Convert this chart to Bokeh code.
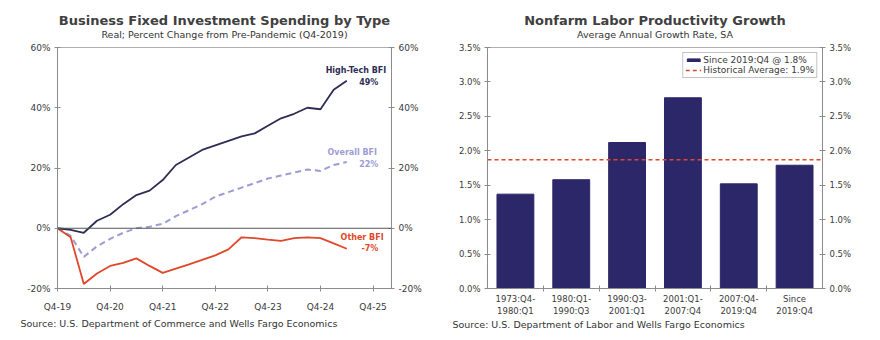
from bokeh.plotting import figure
from bokeh.layouts import row
from bokeh.models import (Range1d, LinearAxis, FixedTicker, PrintfTickFormatter,
                          Label, Span, Legend, LegendItem, ColumnDataSource, Title)
from bokeh.embed import file_html
from bokeh.resources import INLINE

# ---------------- data ----------------
quarters = ["Q4-19", "Q1-20", "Q2-20", "Q3-20", "Q4-20", "Q1-21", "Q2-21", "Q3-21",
            "Q4-21", "Q1-22", "Q2-22", "Q3-22", "Q4-22", "Q1-23", "Q2-23", "Q3-23",
            "Q4-23", "Q1-24", "Q2-24", "Q3-24", "Q4-24", "Q1-25", "Q2-25"]
high_tech = [0, -0.5, -1.5, 2.5, 4.5, 8, 11, 12.5, 16, 21, 23.5, 26, 27.5, 29, 30.5,
             31.5, 34, 36.5, 38, 40, 39.5, 46, 49]
overall = [0, -2.5, -9.5, -6, -3.5, -1.5, 0, 0.5, 1.5, 4, 6, 8, 10.5, 12, 13.5, 15,
           16.5, 17.5, 18.5, 19.5, 19, 21, 22]
other = [0, -3, -18.5, -15, -12.5, -11.5, -10, -12.5, -14.8, -13.4, -12, -10.5, -9,
         -7, -3, -3.3, -3.8, -4.2, -3.3, -3, -3.3, -5, -6.8]
year_ticks = ["Q4-19", "Q4-20", "Q4-21", "Q4-22", "Q4-23", "Q4-24", "Q4-25"]
left_y_ticks = [-20, 0, 20, 40, 60]

periods = ["1973:Q4-\n1980:Q1", "1980:Q1-\n1990:Q3", "1990:Q3-\n2001:Q1",
           "2001:Q1-\n2007:Q4", "2007:Q4-\n2019:Q4", "Since\n2019:Q4"]
productivity = [1.37, 1.58, 2.12, 2.77, 1.52, 1.79]
historical_avg = 1.87
right_y_ticks = [0, 0.5, 1.0, 1.5, 2.0, 2.5, 3.0, 3.5]

FONT = "DejaVu Sans"
NAVY = "#2e2d56"
LAV = "#9d9dd6"
RED = "#e0472b"
BAR = "#2c2769"
AXC = "#8c8c8c"
TXT = "#3a3a3a"


def style_axis(ax, size="9px"):
    ax.axis_line_color = AXC
    ax.major_tick_line_color = AXC
    ax.major_tick_in = 3
    ax.major_tick_out = 3
    ax.minor_tick_line_color = None
    ax.major_label_text_font = FONT
    ax.major_label_text_font_size = size
    ax.major_label_text_color = TXT
    ax.major_label_standoff = 4


def add_titles(p, title, subtitle, source, src_offset, src_standoff):
    p.add_layout(Title(text=subtitle, align="center", text_font=FONT, text_font_size="9.5px",
                       text_font_style="normal", text_color="#333333", standoff=16), "above")
    p.add_layout(Title(text=title, align="center", text_font=FONT, text_font_size="13px",
                       text_font_style="bold", text_color="#404040", standoff=-18), "above")
    p.add_layout(Title(text=source, align="left", offset=src_offset, text_font=FONT,
                       text_font_size="9.5px", text_font_style="normal", text_color="#333333",
                       standoff=src_standoff), "below")


# ---------------- left chart ----------------
p1 = figure(width=440, height=340, x_range=Range1d(0, 25.4), y_range=Range1d(-20, 60),
            output_backend="svg", toolbar_location=None,
            min_border_left=57, min_border_right=49, min_border_top=46, min_border_bottom=44)
p1.xgrid.visible = False
p1.ygrid.visible = False
p1.outline_line_color = "#b0b0b0"

p1.yaxis.ticker = FixedTicker(ticks=left_y_ticks)
p1.yaxis.formatter = PrintfTickFormatter(format="%d%%")
style_axis(p1.yaxis[0])
ry = LinearAxis(ticker=FixedTicker(ticks=left_y_ticks), formatter=PrintfTickFormatter(format="%d%%"))
style_axis(ry)
p1.add_layout(ry, "right")

xt = [4 * i for i in range(len(year_ticks))]
p1.xaxis.ticker = FixedTicker(ticks=xt)
p1.xaxis.major_label_overrides = {t: lab for t, lab in zip(xt, year_ticks)}
style_axis(p1.xaxis[0])
p1.xaxis.major_label_standoff = 10

p1.add_layout(Span(location=0, dimension="width", line_color="#555555", line_width=1))

qx = list(range(len(quarters)))
p1.line(qx, overall, line_color=LAV, line_width=2, line_dash="6 4")
p1.line(qx, other, line_color=RED, line_width=1.8)
p1.line(qx, high_tech, line_color=NAVY, line_width=1.8)


def lab(p, x, y, text, color, bold=True, size="8px", align="right"):
    p.add_layout(Label(x=x, y=y, text=text, text_color=color, text_font=FONT,
                       text_font_size=size, text_align=align, text_baseline="middle",
                       text_font_style="bold" if bold else "normal"))


lab(p1, 25.0, 52.2, "High-Tech BFI", NAVY)
lab(p1, 24.4, 48.3, "49%", NAVY)
lab(p1, 24.3, 25.0, "Overall BFI", LAV)
lab(p1, 24.4, 21.1, "22%", LAV)
lab(p1, 24.8, -3.2, "Other BFI", RED)
lab(p1, 24.4, -6.7, "-7%", RED)

add_titles(p1, "Business Fixed Investment Spending by Type",
           "Real; Percent Change from Pre-Pandemic (Q4-2019)",
           "Source: U.S. Department of Commerce and Wells Fargo Economics", -37, 2)

# ---------------- right chart ----------------
p2 = figure(width=440, height=340, x_range=Range1d(0, len(periods)), y_range=Range1d(0, 3.5),
            output_backend="svg", toolbar_location=None,
            min_border_left=47, min_border_right=58, min_border_top=47, min_border_bottom=52)
p2.xgrid.visible = False
p2.ygrid.visible = False
p2.outline_line_color = "#b0b0b0"

p2.yaxis.ticker = FixedTicker(ticks=right_y_ticks)
p2.yaxis.formatter = PrintfTickFormatter(format="%.1f%%")
style_axis(p2.yaxis[0], "8.5px")
ry2 = LinearAxis(ticker=FixedTicker(ticks=right_y_ticks), formatter=PrintfTickFormatter(format="%.1f%%"))
style_axis(ry2, "8.5px")
p2.add_layout(ry2, "right")

centers = [i + 0.5 for i in range(len(periods))]
p2.xaxis.ticker = FixedTicker(ticks=centers, minor_ticks=list(range(1, len(periods))))
p2.xaxis.major_label_overrides = {c: t for c, t in zip(centers, periods)}
style_axis(p2.xaxis[0], "8.5px")
p2.xaxis.major_tick_in = 0
p2.xaxis.major_tick_out = 0
p2.xaxis.minor_tick_line_color = AXC
p2.xaxis.minor_tick_in = 3
p2.xaxis.minor_tick_out = 3
p2.xaxis.major_label_standoff = 2

src = ColumnDataSource(dict(x=centers, top=productivity))
bars = p2.vbar(x="x", top="top", width=0.66, source=src, fill_color=BAR, line_color=BAR)
hl = p2.line([0, len(periods)], [historical_avg, historical_avg], line_color=RED,
             line_width=1.6, line_dash="4 3")

leg = Legend(items=[LegendItem(label="Since 2019:Q4 @ 1.8%", renderers=[bars]),
                    LegendItem(label="Historical Average: 1.9%", renderers=[hl])],
             location="top_right")
leg.label_text_font = FONT
leg.label_text_font_size = "9px"
leg.label_text_color = TXT
leg.label_height = 10
leg.glyph_height = 4
leg.glyph_width = 16
leg.spacing = 0
leg.padding = 2
leg.margin = 5
leg.label_standoff = 2
leg.border_line_color = "#888888"
leg.background_fill_alpha = 1
p2.add_layout(leg)

add_titles(p2, "Nonfarm Labor Productivity Growth", "Average Annual Growth Rate, SA",
           "Source: U.S. Department of Labor and Wells Fargo Economics", -35, -4)

layout = row(p1, p2)
open("out.html", "w").write(file_html(layout, INLINE))
